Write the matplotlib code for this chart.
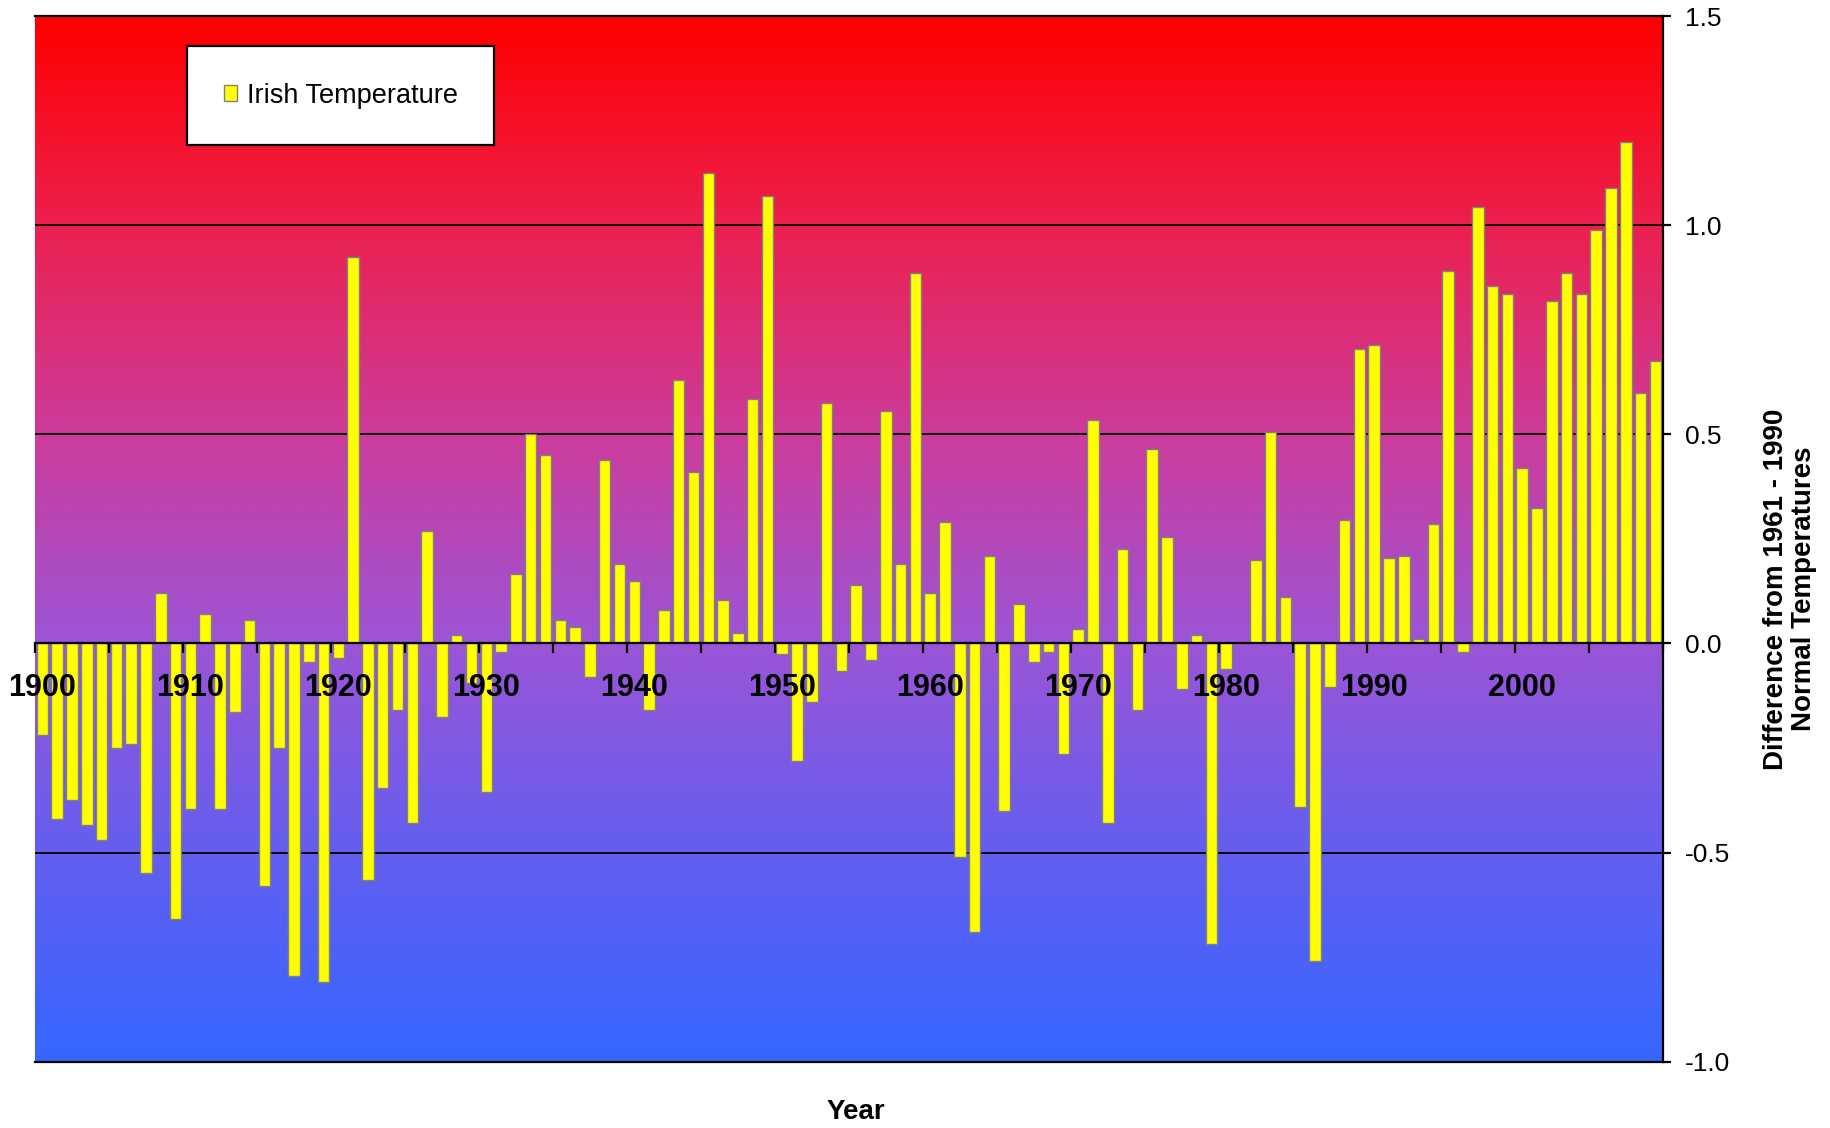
import matplotlib
matplotlib.use('Agg')
import matplotlib.pyplot as plt
import numpy as np
from matplotlib.colors import LinearSegmentedColormap
from matplotlib.ticker import FixedLocator, FormatStrFormatter

plt.rcParams['font.family'] = ['Liberation Sans', 'DejaVu Sans']

# Irish temperature anomaly, difference from 1961-1990 normal
years = list(range(1900, 2010))
anomaly = [
    -0.22, -0.42, -0.375, -0.435, -0.47, -0.25, -0.24, -0.55, 0.12, -0.66,    # 1900s
    -0.395, 0.07, -0.395, -0.165, 0.055, -0.58, -0.25, -0.795, -0.045, -0.81,  # 1910s
    -0.035, 0.925, -0.565, -0.345, -0.16, -0.43, 0.27, -0.175, 0.02, -0.095,   # 1920s
    -0.355, -0.02, 0.165, 0.50, 0.45, 0.055, 0.04, -0.08, 0.44, 0.19,          # 1930s
    0.15, -0.16, 0.08, 0.63, 0.41, 1.125, 0.105, 0.025, 0.585, 1.07,           # 1940s
    -0.025, -0.28, -0.14, 0.575, -0.065, 0.14, -0.04, 0.555, 0.19, 0.885,      # 1950s
    0.12, 0.29, -0.51, -0.69, 0.21, -0.40, 0.095, -0.045, -0.02, -0.265,       # 1960s
    0.035, 0.535, -0.43, 0.225, -0.16, 0.465, 0.255, -0.11, 0.02, -0.72,       # 1970s
    -0.06, 0.0, 0.20, 0.505, 0.11, -0.39, -0.76, -0.105, 0.295, 0.705,         # 1980s
    0.715, 0.205, 0.21, 0.01, 0.285, 0.89, -0.02, 1.045, 0.855, 0.835,         # 1990s
    0.42, 0.325, 0.82, 0.885, 0.835, 0.99, 1.09, 1.20, 0.60, 0.675,            # 2000s
]
year_labels = list(range(1900, 2001, 10))
y_ticks = [-1.0, -0.5, 0.0, 0.5, 1.0, 1.5]

fig = plt.figure(figsize=(18.31, 11.28), dpi=100)
ax = fig.add_axes([0.0191, 0.0589, 0.889, 0.9266])

x0, x1 = years[0] - 0.5, years[-1] + 0.5
ax.set_xlim(x0, x1)
ax.set_ylim(-1.0, 1.5)

# red -> blue background
bg = LinearSegmentedColormap.from_list('bg', [
    (0.0, (1.0, 0.0, 0.0)),
    (0.2, (0.925, 0.125, 0.31)),
    (0.4, (0.80, 0.235, 0.61)),
    (0.6, (0.61, 0.33, 0.84)),
    (0.8, (0.39, 0.37, 0.94)),
    (1.0, (0.21, 0.40, 1.0)),
])
grad = np.linspace(0, 1, 256).reshape(-1, 1)
ax.imshow(grad, cmap=bg, extent=[x0, x1, -1.0, 1.5], aspect='auto',
          origin='upper', zorder=0, interpolation='bilinear')

for g in [-0.5, 0.5, 1.0]:
    ax.axhline(g, color='black', lw=1.3, zorder=1)
ax.axhline(-1.0, color='black', lw=1.6, zorder=5, clip_on=False)

# bars under the axis (zorder 2.5) so the year labels sit on top
ax.bar(years, anomaly, width=0.78, color='#FFFF00', edgecolor='#808080',
       linewidth=1.0, zorder=1.5, label='Irish Temperature')

# x axis sits on zero
ax.spines['left'].set_visible(False)
ax.spines['bottom'].set_position(('data', 0))
for s in ['bottom', 'top', 'right']:
    ax.spines[s].set_linewidth(1.6)

ax.xaxis.set_major_locator(FixedLocator(year_labels))
ax.set_xticklabels([str(y) for y in year_labels])
ax.xaxis.set_minor_locator(FixedLocator(np.arange(x0, x1 + 0.1, 5)))
ax.tick_params(axis='x', which='major', length=0, pad=21, labelsize=22)
ax.tick_params(axis='x', which='minor', direction='out', length=7, width=1.6)
for t in ax.get_xticklabels():
    t.set_fontweight('bold')

ax.yaxis.tick_right()
ax.yaxis.set_major_locator(FixedLocator(y_ticks))
ax.yaxis.set_major_formatter(FormatStrFormatter('%.1f'))
ax.tick_params(axis='y', direction='out', length=6, width=1.6, labelsize=19, pad=10)

fig.text(0.9776, 0.478, 'Difference from 1961 - 1990\nNormal Temperatures',
         rotation=90, ha='center', va='center', multialignment='center',
         fontsize=20, fontweight='bold', linespacing=1.1)
fig.text(0.4675, 0.0142, 'Year', ha='center', va='center',
         fontsize=20, fontweight='bold')

leg = ax.legend(loc='upper left', bbox_to_anchor=(187 / 1831, 1 - 46 / 1128),
                bbox_transform=fig.transFigure, fontsize=19.5, frameon=True,
                fancybox=False, framealpha=1, borderpad=1.35,
                handlelength=0.5, handleheight=0.5, handletextpad=0.35,
                borderaxespad=0)
leg.get_frame().set_edgecolor('black')
leg.get_frame().set_linewidth(1.6)
leg.set_zorder(8)

fig.savefig('out.png', dpi=100)
